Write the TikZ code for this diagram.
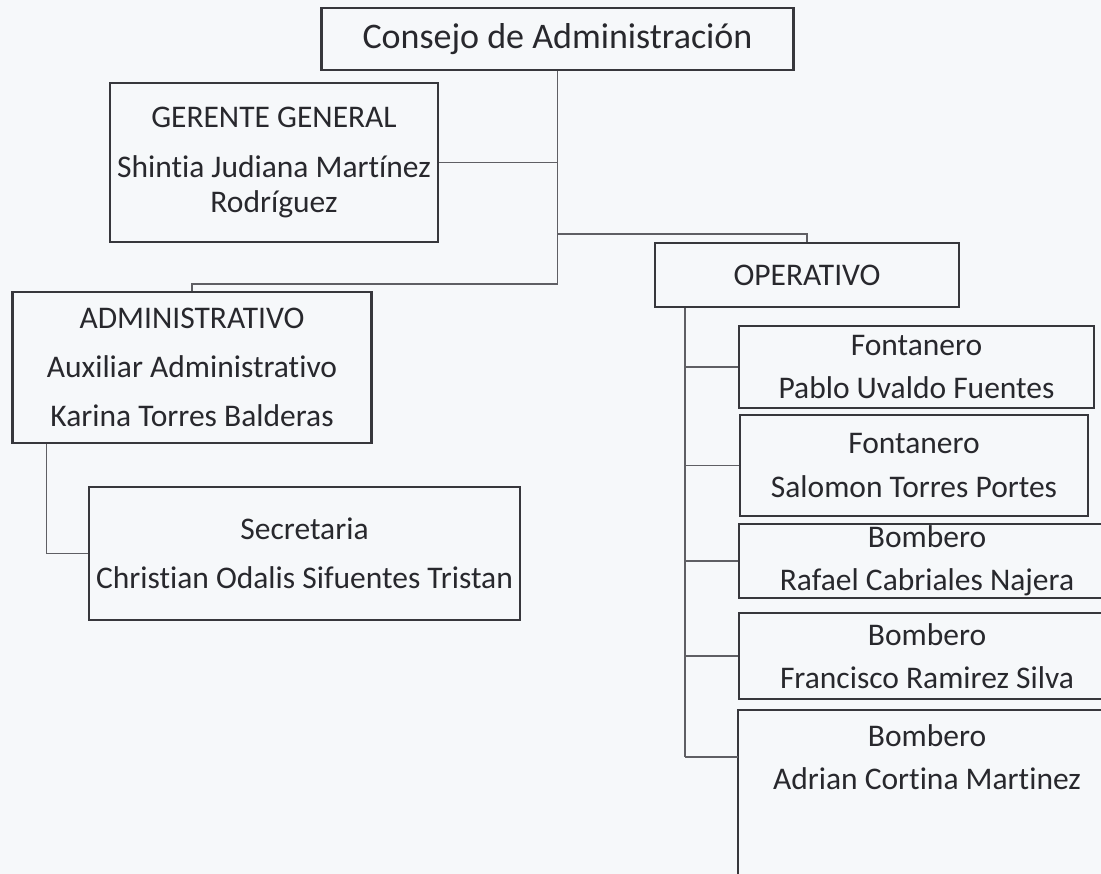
\documentclass[tikz,border=0pt]{standalone}
\usepackage{fontspec}
\setmainfont{Carlito}[Ligatures=NoCommon]
\usetikzlibrary{positioning,calc}
\definecolor{paper}{RGB}{246,248,250}
\definecolor{ink}{RGB}{40,40,45}
\definecolor{edge}{RGB}{55,55,60}
\definecolor{wire}{RGB}{95,95,100}
\tikzset{
  orgbox/.style ={draw=edge, line width=2.2pt, align=center, inner sep=0pt, text=ink,
                  font=\fontsize{31.5}{43}\selectfont},
  openbox/.style={orgbox, draw=none},
  link/.style   ={draw=wire, line width=1.4pt},
}
\begin{document}
\begin{tikzpicture}[x=1pt,y=-1pt]
\useasboundingbox (0,0) rectangle (1101,874);
\clip (0,0) rectangle (1101,874);
\fill[paper] (0,0) rectangle (1101,874);

% council and manager
\node[orgbox, minimum width=472pt, minimum height=62pt, font=\fontsize{36}{43}\selectfont]
  (consejo) at (557.5,39) {Consejo de Administración};
\node[orgbox, minimum width=328pt, minimum height=159pt, font=\fontsize{31.5}{35}\selectfont]
  (gerente) at (274,162.5) {GERENTE GENERAL\\[15pt] Shintia Judiana Martínez\\ Rodríguez};

% departments
\node[orgbox, minimum width=304pt, minimum height=64pt] (operativo) at (807,275) {OPERATIVO};
\node[orgbox, minimum width=359pt, minimum height=151pt, font=\fontsize{31.5}{49}\selectfont]
  (admin) at (192,367.5) {ADMINISTRATIVO\\ Auxiliar Administrativo\\ Karina Torres Balderas};
\node[orgbox, minimum width=431pt, minimum height=133pt, font=\fontsize{31.5}{49}\selectfont]
  (secre) at (304.5,553.5) {Secretaria\\ Christian Odalis Sifuentes Tristan};

% operative staff
\node[orgbox, minimum width=355pt, minimum height=82pt] (font1) at (916.5,367) {Fontanero\\ Pablo Uvaldo Fuentes};
\node[orgbox, minimum width=348pt, minimum height=101pt, font=\fontsize{31.5}{44}\selectfont]
  (font2) at (914,465.5) {Fontanero\\ Salomon Torres Portes};
\node[orgbox, minimum width=376pt, minimum height=74pt] (bomb1) at (927,561) {Bombero\\ Rafael Cabriales Najera};
\node[orgbox, minimum width=376pt, minimum height=86pt] (bomb2) at (927,656) {Bombero\\ Francisco Ramirez Silva};
\node[openbox, minimum width=376pt, minimum height=92pt] (bomb3) at (927,757) {Bombero\\ Adrian Cortina Martinez};
\draw[draw=edge, line width=2.2pt] ([yshift=-150pt]bomb3.south west) |- (bomb3.north east)
  -- ([yshift=-150pt]bomb3.south east);

% connectors
\coordinate (jop) at (557.5,234);
\coordinate (jadm) at (557.5,284);
\draw[link] (consejo.south) -- (jadm) -| (admin.north);
\draw[link] (gerente.east) -- (gerente.east -| consejo.south);
\draw[link] (jop) -| (operativo.north);
\coordinate (opbus) at ([xshift=31pt]operativo.south west);
\draw[link] (opbus) -- (opbus |- bomb3.west);
\foreach \n in {font1,font2,bomb1,bomb2,bomb3}
  \draw[link] (opbus |- \n.west) -- (\n.west);
\draw[link] ([xshift=35pt]admin.south west) |- (secre.west);
\end{tikzpicture}
\end{document}
